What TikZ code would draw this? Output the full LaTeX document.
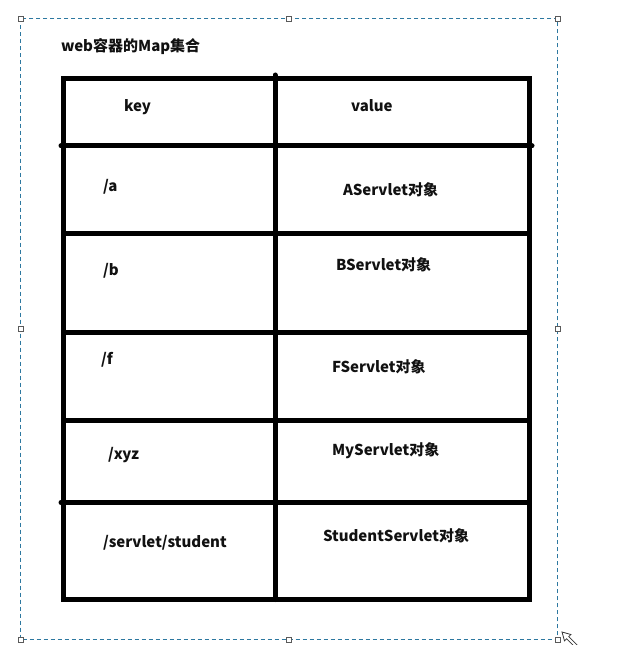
\documentclass[tikz,border=0pt]{standalone}
\usepackage{fontspec}
\newfontfamily\cjk{Noto Sans CJK SC}
\definecolor{selblue}{RGB}{45,120,160}
\definecolor{ink}{RGB}{17,17,17}
\definecolor{handlegray}{RGB}{90,90,90}
\tikzset{
  tabline/.style={line width=5bp, black},
  seldash/.style={selblue, line width=0.9bp, dash pattern=on 4bp off 3bp},
  handle/.style={draw=handlegray, fill=white, line width=0.8bp, minimum size=5bp, inner sep=0pt, outer sep=0pt},
  cell/.style={anchor=west, inner sep=0pt, outer sep=0pt, text=ink, font=\cjk\bfseries\fontsize{15bp}{18bp}\selectfont},
}
\begin{document}
\begin{tikzpicture}[x=1bp,y=-1bp]
\useasboundingbox (0,0) rectangle (617,645);
% selection frame
\draw[seldash] (20.5,18.5) rectangle (557.5,639.5);
\node[handle] (h1) at (20.5,18.5) {};
\node[handle] (h2) at (289,18.5) {};
\node[handle] (h3) at (557.5,18.5) {};
\node[handle] (h4) at (20.5,328.5) {};
\node[handle] (h5) at (557.5,328.5) {};
\node[handle] (h6) at (20.5,639.5) {};
\node[handle] (h7) at (289,639.5) {};
\node[handle] (h8) at (557.5,639.5) {};
% resize cursor
\begin{scope}[shift={(562,632)}, rotate=-45]
\draw[handlegray!60!black, fill=white, line width=0.8bp, line join=miter]
  (0,0) -- (8,4.5) -- (8,1.5) -- (26,1.5) -- (26,-1.5) -- (8,-1.5) -- (8,-4.5) -- cycle;
\end{scope}
% table
\draw[tabline] (63.5,78.5) rectangle (529.5,599.5);
\draw[tabline, line cap=round] (275,75) -- (275,599.5);
\draw[tabline, line cap=round] (61,146) -- (532,146);
\draw[tabline] (66,233.5) -- (527,233.5);
\draw[tabline] (63,332.5) -- (527,332.5);
\draw[tabline] (66,420.5) -- (527,420.5);
\draw[tabline, line cap=round] (61,502.5) -- (527,502.5);
% texts
\node[cell] (title) at (61,46.5) {web容器的Map集合};
\node[cell] (k0) at (124,107) {key};
\node[cell] (v0) at (351,105.5) {value};
\node[cell] (k1) at (103,186.5) {/a};
\node[cell] (v1) at (343,190) {AServlet对象};
\node[cell] (k2) at (103,271) {/b};
\node[cell] (v2) at (336,264.5) {BServlet对象};
\node[cell] (k3) at (101,360) {/f};
\node[cell] (v3) at (332,366.5) {FServlet对象};
\node[cell] (k4) at (108,455) {/xyz};
\node[cell] (v4) at (332,450.5) {MyServlet对象};
\node[cell] (k5) at (103,543) {/servlet/student};
\node[cell] (v5) at (323,536) {StudentServlet对象};
\end{tikzpicture}
\end{document}
